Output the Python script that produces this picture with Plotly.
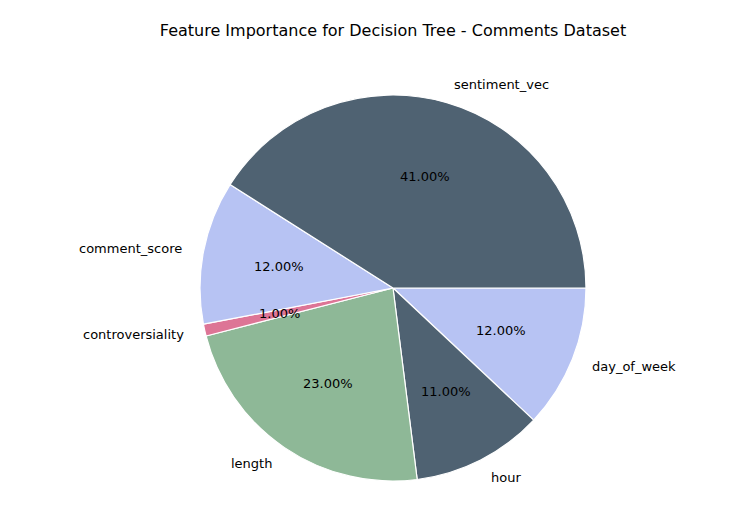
import math
import plotly.graph_objects as go

features = ["sentiment_vec", "comment_score", "controversiality", "length", "hour", "day_of_week"]
importance = [41, 12, 1, 23, 11, 12]
colors = ["#4f6272", "#b7c3f3", "#dd7596", "#8eb897", "#4f6272", "#b7c3f3"]

W, H = 736, 529
cx, cy, r = 385, 280, 193

fig = go.Figure(go.Pie(
    labels=features[::-1], values=importance[::-1], sort=False, direction="clockwise",
    rotation=90, textinfo="none", hoverinfo="label+percent",
    marker=dict(colors=colors[::-1], line=dict(color="white", width=1.2)),
    domain=dict(x=[(cx - r) / W, (cx + r) / W], y=[1 - (cy + r) / H, 1 - (cy - r) / H]),
    showlegend=False,
))

total = sum(importance)
cum = 0
font = dict(family="DejaVu Sans", size=13, color="black")
for name, v in zip(features, importance):
    mid = (cum + v / 2) / total * 2 * math.pi
    cum += v
    c, s = math.cos(mid), math.sin(mid)
    fig.add_annotation(x=(cx + 1.1 * r * c) / W, y=1 - (cy - 1.1 * r * s) / H,
                       xref="paper", yref="paper", text=name, showarrow=False, font=font,
                       xanchor="left" if c >= 0 else "right", yanchor="middle")
    fig.add_annotation(x=(cx + 0.6 * r * c) / W, y=1 - (cy - 0.6 * r * s) / H,
                       xref="paper", yref="paper", text=f"{v / total * 100:.2f}%", showarrow=False,
                       font=font, xanchor="center", yanchor="middle")

fig.update_layout(
    width=W, height=H, margin=dict(l=0, r=0, t=0, b=0),
    paper_bgcolor="white", plot_bgcolor="white",
    title=dict(text="Feature Importance for Decision Tree - Comments Dataset",
               x=385 / W, xanchor="center", y=1 - 22 / H, yanchor="middle",
               font=dict(family="DejaVu Sans", size=16, color="black")),
)
fig.write_html("out.html")
